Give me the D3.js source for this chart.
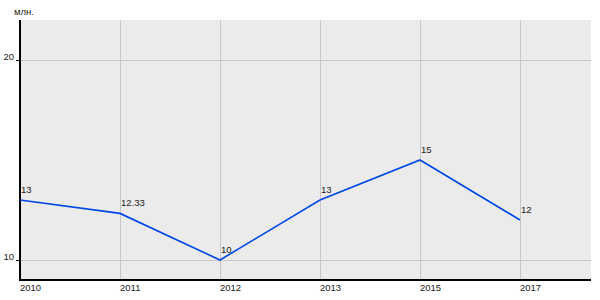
<!DOCTYPE html>
<html>
<head>
<meta charset="utf-8">
<script src="https://cdn.jsdelivr.net/npm/d3@7"></script>
<style>
  body { margin: 0; background: #fff; }
  text { font-family: "Liberation Sans", Arial, sans-serif; font-size: 9.5px; fill: #222; }
</style>
</head>
<body>
<div class="canvas"></div>
<script>
// data
const years = ['2010', '2011', '2012', '2013', '2015', '2017'];
const values = [13, 12.33, 10, 13, 15, 12];
const valueLabels = ['13', '12.33', '10', '13', '15', '12'];
const yTicks = [10, 20];
const unitLabel = 'млн.';

const svg = d3.select('.canvas')
    .append('svg')
    .attr('width', 600)
    .attr('height', 300);

const margin = { top: 20, right: 9, bottom: 20, left: 20 };
const graphWidth = 600 - margin.left - margin.right;
const graphHeight = 300 - margin.top - margin.bottom;

const graph = svg.append('g')
    .attr('transform', `translate(${margin.left},${margin.top})`);

// scales
const x = d3.scalePoint()
    .domain(years)
    .range([0, 500]);

const y = d3.scaleLinear()
    .domain([9, 22])
    .range([graphHeight, 0]);

// background
graph.append('rect')
    .attr('width', graphWidth)
    .attr('height', graphHeight)
    .attr('fill', '#ebebeb');

// grid lines
graph.selectAll('.vgrid')
    .data(years)
    .enter().append('line')
    .attr('x1', d => x(d)).attr('x2', d => x(d))
    .attr('y1', 0).attr('y2', graphHeight)
    .attr('stroke', '#c8c8c8')
    .attr('shape-rendering', 'crispEdges');

graph.selectAll('.hgrid')
    .data(yTicks)
    .enter().append('line')
    .attr('x1', 0).attr('x2', graphWidth)
    .attr('y1', d => y(d)).attr('y2', d => y(d))
    .attr('stroke', '#c8c8c8')
    .attr('shape-rendering', 'crispEdges');

// y axis ticks and labels
graph.selectAll('.ytick')
    .data(yTicks)
    .enter().append('line')
    .attr('x1', -4).attr('x2', 0)
    .attr('y1', d => y(d)).attr('y2', d => y(d))
    .attr('stroke', '#000')
    .attr('shape-rendering', 'crispEdges');

graph.selectAll('.ylabel')
    .data(yTicks)
    .enter().append('text')
    .attr('x', -6)
    .attr('y', d => y(d))
    .attr('text-anchor', 'end')
    .text(d => d);

// x labels
graph.selectAll('.xlabel')
    .data(years)
    .enter().append('text')
    .attr('x', d => x(d))
    .attr('y', graphHeight + 11)
    .text(d => d);

// axes lines
graph.append('line')
    .attr('x1', 0).attr('x2', 0)
    .attr('y1', 0).attr('y2', graphHeight + 1)
    .attr('stroke', '#000').attr('stroke-width', 2);

graph.append('line')
    .attr('x1', 0).attr('x2', graphWidth)
    .attr('y1', graphHeight).attr('y2', graphHeight)
    .attr('stroke', '#000').attr('stroke-width', 2);

// unit label
svg.append('text')
    .attr('x', 14)
    .attr('y', 15)
    .text(unitLabel);

// line
const line = d3.line()
    .x((d, i) => x(years[i]))
    .y(d => y(d));

graph.append('path')
    .datum(values)
    .attr('d', line)
    .attr('fill', 'none')
    .attr('stroke', '#0047e6')
    .attr('stroke-width', 1.6);

// value labels
graph.selectAll('.vlabel')
    .data(values)
    .enter().append('text')
    .attr('x', (d, i) => x(years[i]) + 1)
    .attr('y', d => y(d) - 7.5)
    .text((d, i) => valueLabels[i]);
</script>
</body>
</html>
